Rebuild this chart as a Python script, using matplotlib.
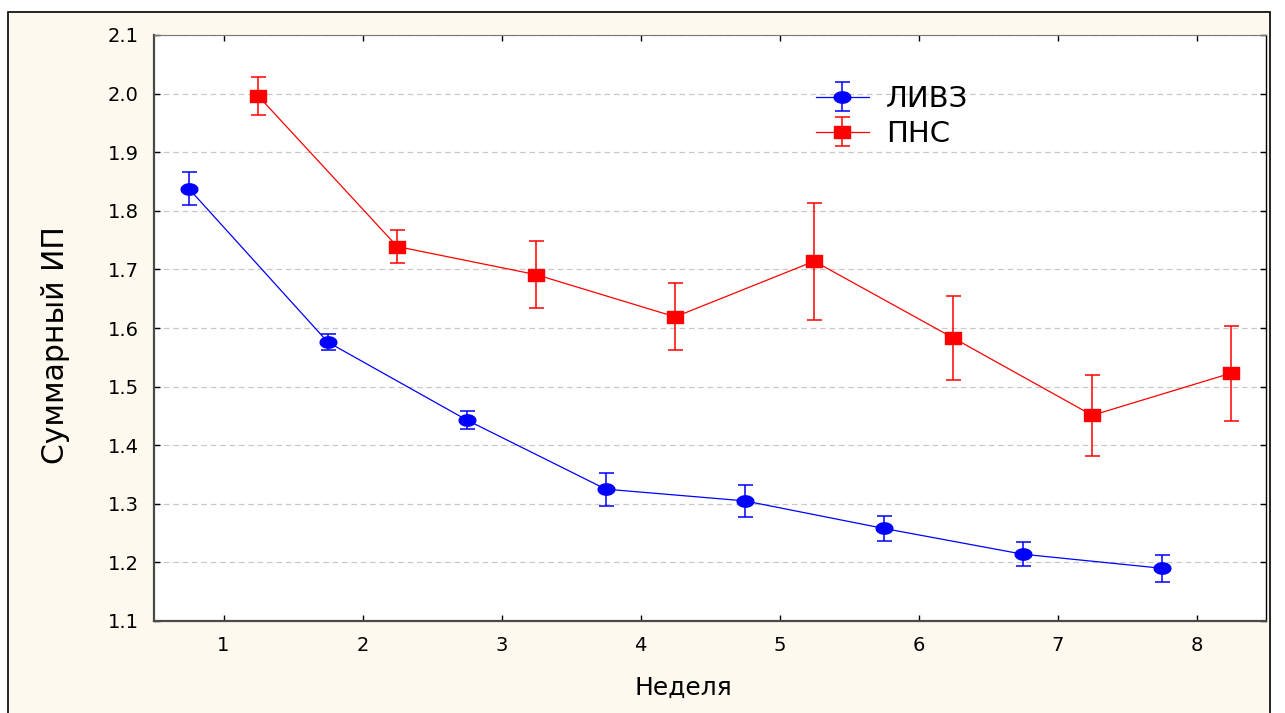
import numpy as np
import matplotlib
matplotlib.use("Agg")
import matplotlib.pyplot as plt
from matplotlib.path import Path
from matplotlib.patches import Rectangle

weeks = [1, 2, 3, 4, 5, 6, 7, 8]

livz_mean = [1.838, 1.576, 1.443, 1.325, 1.305, 1.258, 1.214, 1.190]
livz_err = [0.028, 0.014, 0.016, 0.028, 0.027, 0.021, 0.020, 0.023]

pns_mean = [1.996, 1.739, 1.691, 1.619, 1.714, 1.583, 1.451, 1.523]
pns_err = [0.032, 0.028, 0.057, 0.057, 0.100, 0.072, 0.069, 0.081]

y_ticks = [1.1, 1.2, 1.3, 1.4, 1.5, 1.6, 1.7, 1.8, 1.9, 2.0, 2.1]

plt.rcParams["font.family"] = ["DejaVu Sans"]

# slightly flattened markers
t = np.linspace(0, 2 * np.pi, 60)
ellipse = Path(np.column_stack([np.cos(t), 0.68 * np.sin(t)]), closed=True)
rect = Path([(-1, -0.75), (1, -0.75), (1, 0.75), (-1, 0.75), (-1, -0.75)], closed=True)

fig = plt.figure(figsize=(12.85, 7.13), dpi=100)
fig.patch.set_facecolor("white")
fig.patches.append(
    Rectangle((8 / 1285, -0.02), 1262 / 1285, 1.02 - 12 / 713,
              transform=fig.transFigure, facecolor="#FEF9EE",
              edgecolor="black", linewidth=1.2, zorder=-10)
)

ax = fig.add_axes([154 / 1285, 1 - 621 / 713, 1112 / 1285, 586 / 713])
ax.set_facecolor("white")

x = np.array(weeks, dtype=float)

ax.errorbar(x - 0.25, livz_mean, yerr=livz_err, color="#0000FF",
            marker=ellipse, markersize=12, markeredgecolor="#0000FF",
            linewidth=0.9, elinewidth=1.1, capsize=5.4, capthick=1.1,
            label="ЛИВЗ", zorder=3)
ax.errorbar(x + 0.25, pns_mean, yerr=pns_err, color="#FF0000",
            marker=rect, markersize=11.3, markeredgecolor="#FF0000",
            linewidth=0.9, elinewidth=1.1, capsize=5.4, capthick=1.1,
            label="ПНС", zorder=3)

ax.set_xlim(0.5, 8.5)
ax.set_ylim(1.1, 2.1)
ax.set_xticks(weeks)
ax.set_yticks(y_ticks)
ax.set_yticklabels([f"{v:.1f}" for v in y_ticks])

ax.yaxis.grid(True, linestyle=(0, (4.5, 3)), color="#C8C8C8", linewidth=0.9)
ax.set_axisbelow(True)

ax.tick_params(direction="in", length=4, width=1, top=True, right=True,
               labelsize=14, colors="black")
ax.tick_params(axis="x", pad=11)
ax.tick_params(axis="y", pad=11)

for side in ["left", "bottom"]:
    ax.spines[side].set_color("#4A4A4A")
    ax.spines[side].set_linewidth(1.6)
ax.spines["top"].set_color("#777777")
ax.spines["top"].set_linewidth(0.8)
ax.spines["right"].set_color("black")
ax.spines["right"].set_linewidth(1.0)

fig.text(683 / 1285, 1 - 688 / 713, "Неделя", ha="center", va="center",
         fontsize=18)
fig.text(55 / 1285, 1 - 345 / 713, "Суммарный ИП", rotation=90,
         ha="center", va="center", fontsize=21.5)

ax.legend(loc="upper left", bbox_to_anchor=(0.585, 0.935), frameon=False,
          fontsize=21, handlelength=1.8, handletextpad=0.6,
          labelspacing=0.25, borderaxespad=0)

fig.savefig("out.png", dpi=100, facecolor=fig.get_facecolor())
